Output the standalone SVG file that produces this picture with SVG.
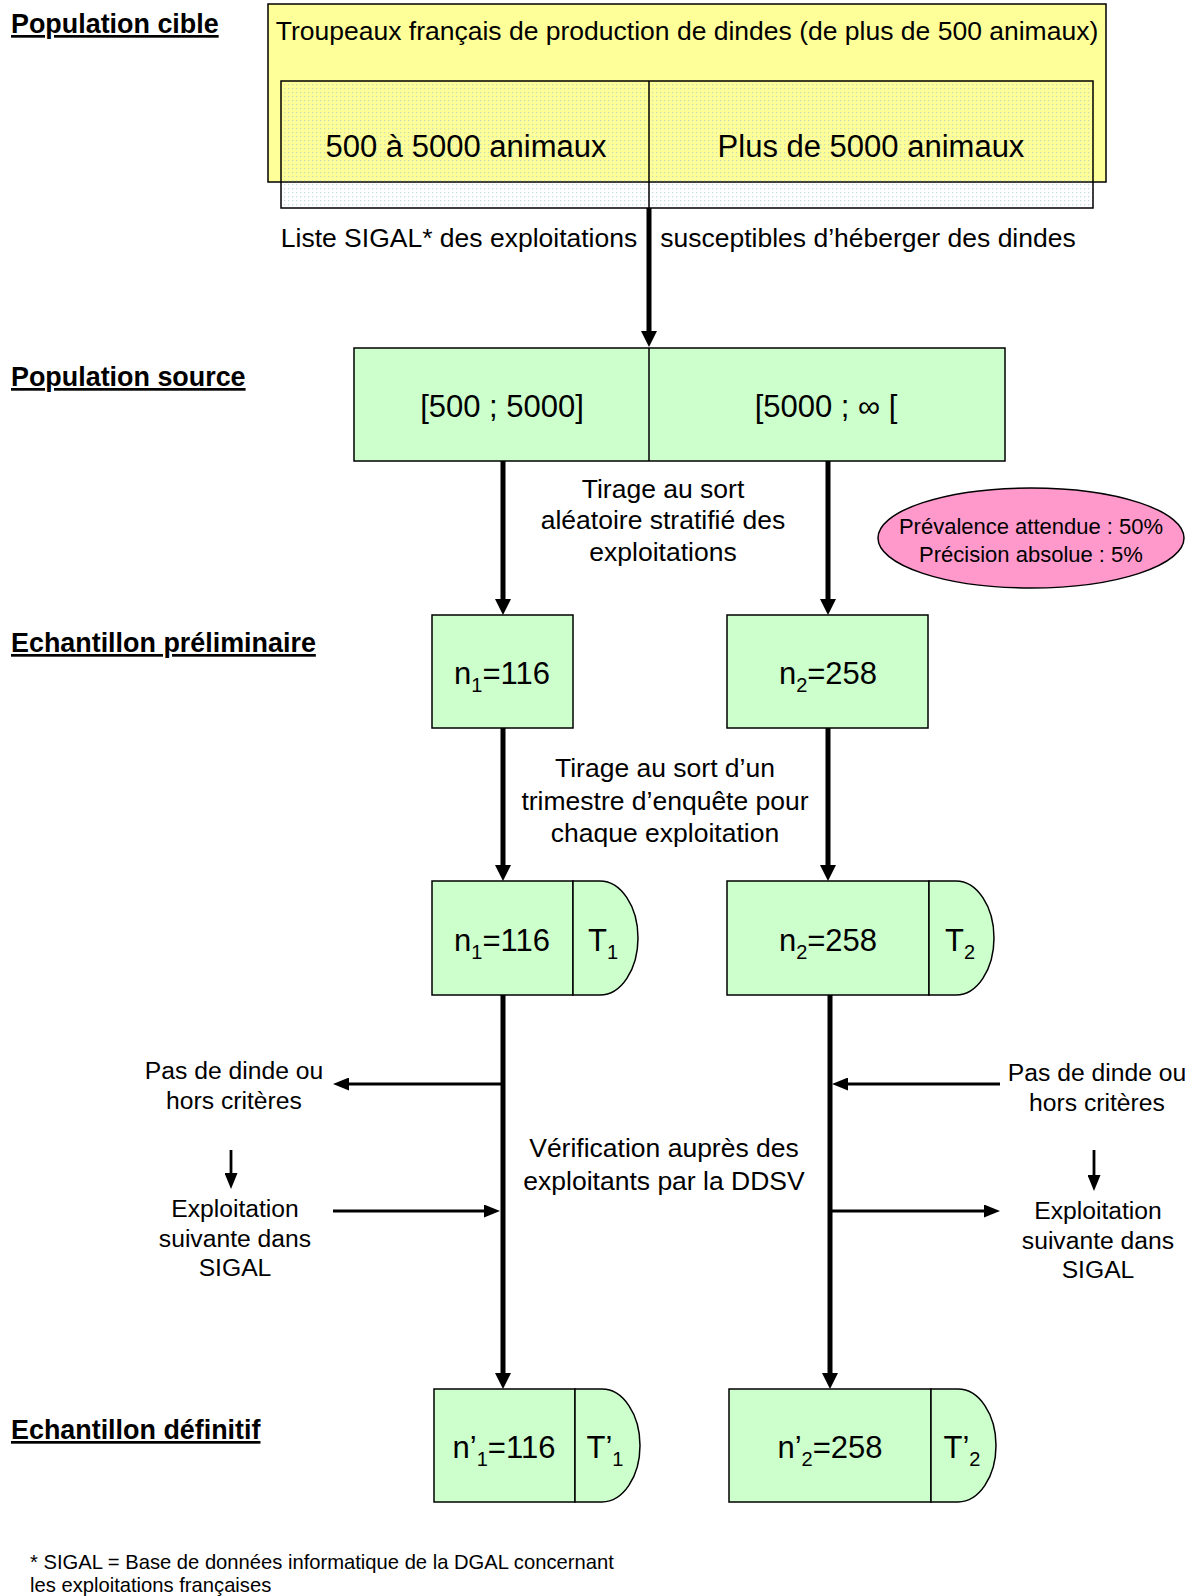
<svg xmlns="http://www.w3.org/2000/svg" width="1197" height="1596" viewBox="0 0 1197 1596">
<defs>
<style>
text{font-family:"Liberation Sans",Arial,sans-serif;fill:#000}
.lbl{font-size:26.9px;font-weight:bold;text-decoration:underline}
.t{font-size:26.5px;text-anchor:middle}
.s{font-size:24.7px;text-anchor:middle}
.big{font-size:31px;text-anchor:middle}
.sm{font-size:22px;text-anchor:middle}
.ft{font-size:20.2px}
.box{fill:#CCFFCC;stroke:#000;stroke-width:1.5}
.thick{stroke:#000;stroke-width:5;fill:none}
.thin{stroke:#000;stroke-width:2.8;fill:none}
</style>
<pattern id="dots" width="4" height="4" patternUnits="userSpaceOnUse">
<rect x="0" y="0" width="1.3" height="1.3" fill="#9fc6cf" opacity="0.6"/>
</pattern>
<marker id="ah" viewBox="0 0 16 16" markerWidth="16" markerHeight="16" refX="6" refY="8" orient="auto" markerUnits="userSpaceOnUse">
<path d="M0,0 L16,8 L0,16 z" fill="#000"/>
</marker>
<marker id="as" viewBox="0 0 16 13" markerWidth="16" markerHeight="13" refX="5" refY="6.5" orient="auto" markerUnits="userSpaceOnUse">
<path d="M0,0 L16,6.5 L0,13 z" fill="#000"/>
</marker>
</defs>
<rect width="1197" height="1596" fill="#fff"/>

<g id="labels">
<text class="lbl" x="11" y="33">Population cible</text>
<text class="lbl" x="11" y="386">Population source</text>
<text class="lbl" x="11" y="652">Echantillon préliminaire</text>
<text class="lbl" x="11" y="1439">Echantillon définitif</text>
</g>

<g id="population-cible">
<rect x="268" y="4" width="838" height="178" fill="#FFFF99" stroke="#000" stroke-width="1.5"/>
<text class="t" x="687" y="40">Troupeaux français de production de dindes (de plus de 500 animaux)</text>
<rect x="281" y="81" width="812" height="127" fill="url(#dots)" stroke="#000" stroke-width="1.5"/>
<line x1="649" y1="81" x2="649" y2="208" stroke="#000" stroke-width="1.5"/>
<text class="big" x="466" y="157">500 à 5000 animaux</text>
<text class="big" x="871" y="157">Plus de 5000 animaux</text>
</g>

<g id="population-source">
<rect class="box" x="354" y="348" width="651" height="113"/>
<line x1="649" y1="348" x2="649" y2="461" stroke="#000" stroke-width="1.5"/>
<text class="big" x="502" y="417">[500 ; 5000]</text>
<text class="big" x="826" y="417">[5000 ; ∞ [</text>
</g>

<g id="ellipse-params">
<ellipse cx="1031" cy="538" rx="153" ry="50" fill="#FF99CC" stroke="#000" stroke-width="1.5"/>
<text class="sm" x="1031" y="534">Prévalence attendue : 50%</text>
<text class="sm" x="1031" y="562">Précision absolue : 5%</text>
</g>

<g id="prelim-1">
<rect class="box" x="432" y="615" width="141" height="113"/>
<text class="big" x="502" y="684">n<tspan font-size="20" dy="8">1</tspan><tspan dy="-8">=116</tspan></text>
</g>
<g id="prelim-2">
<rect class="box" x="727" y="615" width="201" height="113"/>
<text class="big" x="828" y="684">n<tspan font-size="20" dy="8">2</tspan><tspan dy="-8">=258</tspan></text>
</g>

<g id="trim-1">
<rect class="box" x="432" y="881" width="141" height="114"/>
<path class="box" d="M573,881 H600 A38,57 0 0 1 600,995 H573 Z"/>
<text class="big" x="502" y="951">n<tspan font-size="20" dy="8">1</tspan><tspan dy="-8">=116</tspan></text>
<text class="big" x="603" y="951">T<tspan font-size="20" dy="8">1</tspan></text>
</g>
<g id="trim-2">
<rect class="box" x="727" y="881" width="202" height="114"/>
<path class="box" d="M929,881 H956 A38,57 0 0 1 956,995 H929 Z"/>
<text class="big" x="828" y="951">n<tspan font-size="20" dy="8">2</tspan><tspan dy="-8">=258</tspan></text>
<text class="big" x="960" y="951">T<tspan font-size="20" dy="8">2</tspan></text>
</g>

<g id="final-1">
<rect class="box" x="434" y="1389" width="141" height="113"/>
<path class="box" d="M575,1389 H602 A38,56.5 0 0 1 602,1502 H575 Z"/>
<text class="big" x="504" y="1458">n’<tspan font-size="20" dy="8">1</tspan><tspan dy="-8">=116</tspan></text>
<text class="big" x="605" y="1458">T’<tspan font-size="20" dy="8">1</tspan></text>
</g>
<g id="final-2">
<rect class="box" x="729" y="1389" width="202" height="113"/>
<path class="box" d="M931,1389 H958 A38,56.5 0 0 1 958,1502 H931 Z"/>
<text class="big" x="830" y="1458">n’<tspan font-size="20" dy="8">2</tspan><tspan dy="-8">=258</tspan></text>
<text class="big" x="962" y="1458">T’<tspan font-size="20" dy="8">2</tspan></text>
</g>

<g id="side-left">
<text class="s" x="234" y="1079">Pas de dinde ou</text>
<text class="s" x="234" y="1109">hors critères</text>
<text class="s" x="235" y="1217">Exploitation</text>
<text class="s" x="235" y="1247">suivante dans</text>
<text class="s" x="235" y="1276">SIGAL</text>
</g>
<g id="side-right">
<text class="s" x="1097" y="1081">Pas de dinde ou</text>
<text class="s" x="1097" y="1111">hors critères</text>
<text class="s" x="1098" y="1219">Exploitation</text>
<text class="s" x="1098" y="1249">suivante dans</text>
<text class="s" x="1098" y="1278">SIGAL</text>
</g>

<g id="connector-labels">
<text class="t" x="660" y="247"><tspan x="459">Liste SIGAL* des exploitations</tspan><tspan x="868">susceptibles d’héberger des dindes</tspan></text>
<text class="t" x="663" y="498">Tirage au sort</text>
<text class="t" x="663" y="529">aléatoire stratifié des</text>
<text class="t" x="663" y="561">exploitations</text>
<text class="t" x="665" y="777">Tirage au sort d’un</text>
<text class="t" x="665" y="810">trimestre d’enquête pour</text>
<text class="t" x="665" y="842">chaque exploitation</text>
<text class="t" x="664" y="1157">Vérification auprès des</text>
<text class="t" x="664" y="1190">exploitants par la DDSV</text>
</g>

<g id="connectors">
<line class="thick" x1="649" y1="208" x2="649" y2="337" marker-end="url(#ah)"/>
<line class="thick" x1="503" y1="461" x2="503" y2="605" marker-end="url(#ah)"/>
<line class="thick" x1="828" y1="461" x2="828" y2="605" marker-end="url(#ah)"/>
<line class="thick" x1="503" y1="728" x2="503" y2="871" marker-end="url(#ah)"/>
<line class="thick" x1="828" y1="728" x2="828" y2="871" marker-end="url(#ah)"/>
<line class="thick" x1="503" y1="995" x2="503" y2="1379" marker-end="url(#ah)"/>
<line class="thick" x1="830" y1="995" x2="830" y2="1379" marker-end="url(#ah)"/>
<line class="thin" x1="501" y1="1084" x2="344" y2="1084" marker-end="url(#as)"/>
<line class="thin" x1="231" y1="1150" x2="231" y2="1178" marker-end="url(#as)"/>
<line class="thin" x1="333" y1="1211" x2="489" y2="1211" marker-end="url(#as)"/>
<line class="thin" x1="1000" y1="1084" x2="843" y2="1084" marker-end="url(#as)"/>
<line class="thin" x1="1094" y1="1150" x2="1094" y2="1180" marker-end="url(#as)"/>
<line class="thin" x1="832" y1="1211" x2="989" y2="1211" marker-end="url(#as)"/>
</g>

<g id="footer">
<text class="ft" x="30" y="1569">* SIGAL = Base de données informatique de la DGAL concernant</text>
<text class="ft" x="30" y="1592">les exploitations françaises</text>
</g>
</svg>
